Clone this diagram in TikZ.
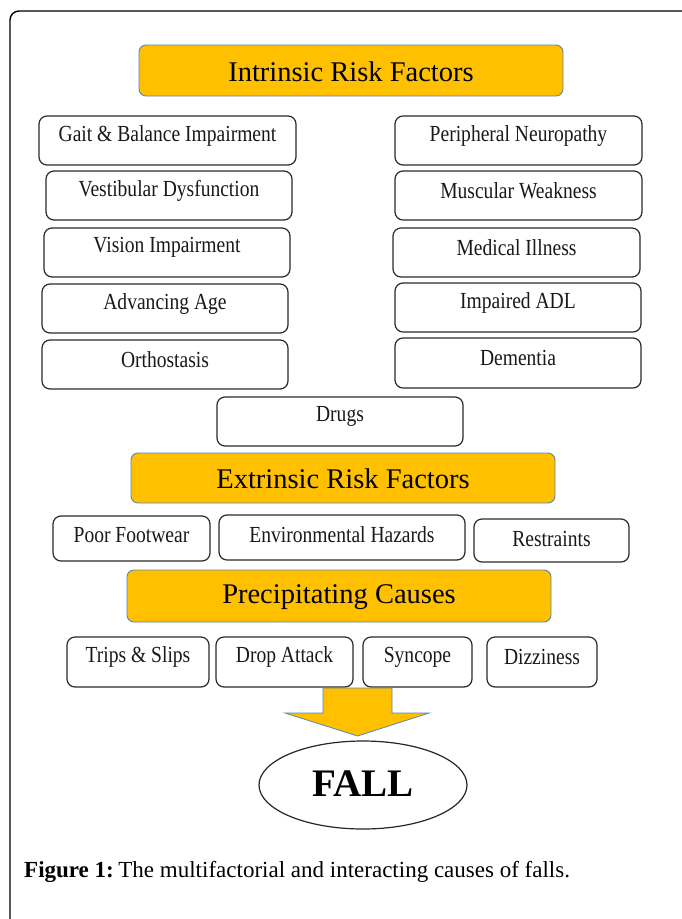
\documentclass[tikz,border=0pt]{standalone}
\usepackage{fontspec}
\setmainfont{Liberation Serif}
\newfontfamily\boxfont[FakeStretch=0.85]{Liberation Serif}
\usetikzlibrary{shapes.geometric}
\definecolor{hdrfill}{HTML}{FFC000}
\definecolor{hdrline}{HTML}{5B87B0}
\definecolor{boxline}{HTML}{2A2A2A}
\tikzset{
  hdr/.style={draw=hdrline, line width=0.9pt, fill=hdrfill, rounded corners=7pt, inner sep=0pt},
  hdrtext/.style={font=\fontsize{28.5}{30}\selectfont, text=black},
  fbox/.style={draw=boxline, line width=1.2pt, rounded corners=8pt, fill=white, inner sep=0pt},
  ftext/.style={font=\boxfont\fontsize{23}{24}\selectfont, text=black!90},
}
\begin{document}
\begin{tikzpicture}[x=1pt,y=-1pt]
\useasboundingbox (0,0) rectangle (681,919);
\fill[white] (0,0) rectangle (681,919);
% outer frame
\draw[line width=1.4pt, rounded corners=9pt] (10,940) -- (10,11) -- (700,11);

% headers
\node[hdr, minimum width=424pt, minimum height=51pt] (intr) at (351,70.5) {};
\node[hdrtext] (intrt) at ([yshift=-1pt]intr.center) {Intrinsic Risk Factors};
\node[hdr, minimum width=424pt, minimum height=50pt] (extr) at (343,478) {};
\node[hdrtext] (extrt) at ([yshift=-1pt]extr.center) {Extrinsic Risk Factors};
\node[hdr, minimum width=424pt, minimum height=52pt] (prec) at (339,596) {};
\node[hdrtext] (prect) at ([yshift=-1pt]prec.center) {Precipitating Causes};

% left column
\node[fbox, minimum width=257pt, minimum height=49pt] (gait) at (167.5,140.5) {};
\node[ftext] at ([yshift=5pt]gait.center) {Gait \& Balance Impairment};
\node[fbox, minimum width=246pt, minimum height=49pt] (vest) at (169,195.5) {};
\node[ftext] at ([yshift=5pt]vest.center) {Vestibular Dysfunction};
\node[fbox, minimum width=246pt, minimum height=49pt] (vis) at (167,252.5) {};
\node[ftext] at ([yshift=5pt]vis.center) {Vision Impairment};
\node[fbox, minimum width=246pt, minimum height=49pt] (age) at (165,308.5) {};
\node[ftext] at ([yshift=5pt]age.center) {Advancing Age};
\node[fbox, minimum width=246pt, minimum height=49pt] (orth) at (165,364.5) {};
\node[ftext] at ([yshift=5pt]orth.center) {Orthostasis};

% right column
\node[fbox, minimum width=247pt, minimum height=49pt] (peri) at (518.5,140.5) {};
\node[ftext] at ([yshift=5pt]peri.center) {Peripheral Neuropathy};
\node[fbox, minimum width=247pt, minimum height=49pt] (musc) at (518.5,195.5) {};
\node[ftext] at ([yshift=5pt]musc.center) {Muscular Weakness};
\node[fbox, minimum width=247pt, minimum height=49pt] (med) at (516.5,252.5) {};
\node[ftext] at ([yshift=5pt]med.center) {Medical Illness};
\node[fbox, minimum width=246pt, minimum height=49pt] (adl) at (518,307.5) {};
\node[ftext] at ([yshift=5pt]adl.center) {Impaired ADL};
\node[fbox, minimum width=246pt, minimum height=50pt] (dem) at (518,363) {};
\node[ftext] at ([yshift=5pt]dem.center) {Dementia};

% drugs
\node[fbox, minimum width=246pt, minimum height=49pt] (drugs) at (340,421.5) {};
\node[ftext] at ([yshift=5pt]drugs.center) {Drugs};

% extrinsic row
\node[fbox, minimum width=157pt, minimum height=45pt] (foot) at (131.5,538.5) {};
\node[ftext] at ([yshift=3pt]foot.center) {Poor Footwear};
\node[fbox, minimum width=246pt, minimum height=45pt] (env) at (342,537.5) {};
\node[ftext] at ([yshift=3pt]env.center) {Environmental Hazards};
\node[fbox, minimum width=155pt, minimum height=43pt] (restr) at (551.5,540.5) {};
\node[ftext] at ([yshift=2pt]restr.center) {Restraints};

% precipitating row
\node[fbox, minimum width=142pt, minimum height=50pt] (trips) at (138,662) {};
\node[ftext] at ([yshift=5pt]trips.center) {Trips \& Slips};
\node[fbox, minimum width=137pt, minimum height=50pt] (drop) at (284.5,662) {};
\node[ftext] at ([yshift=5pt]drop.center) {Drop Attack};
\node[fbox, minimum width=109pt, minimum height=50pt] (sync) at (417.5,662) {};
\node[ftext] at ([yshift=5pt]sync.center) {Syncope};
\node[fbox, minimum width=110pt, minimum height=50pt] (dizz) at (542,662) {};
\node[ftext] at ([yshift=5pt]dizz.center) {Dizziness};

% block arrow
\draw[draw=hdrline, line width=0.8pt, fill=hdrfill]
  (323,688) -- (392,688) -- (392,713) -- (429,713) -- (357.5,736) -- (285,713) -- (323,713) -- cycle;

% fall
\node[draw=black!85, line width=1.2pt, ellipse, minimum width=208pt, minimum height=88pt, inner sep=0pt] (fall) at (363,785) {};
\node[font=\bfseries\fontsize{39}{40}\selectfont] (fallt) at ([yshift=1pt]fall.center) {FALL};

% caption
\node[anchor=base west, inner sep=0pt, font=\fontsize{23}{24}\selectfont] (cap) at (24,877)
  {\textbf{Figure 1:}\hspace{0.2em}The multifactorial and interacting causes of falls.};
\end{tikzpicture}
\end{document}
